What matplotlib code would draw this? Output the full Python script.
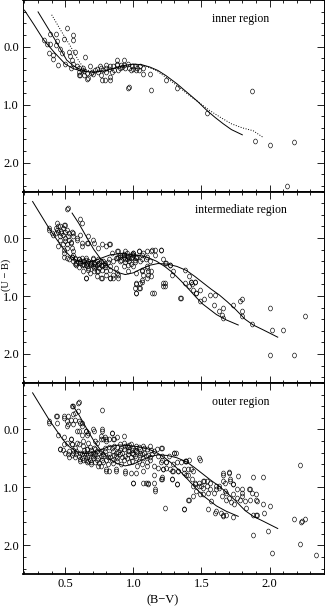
import matplotlib
matplotlib.use('Agg')

import matplotlib.pyplot as plt
import numpy as np
from matplotlib.markers import MarkerStyle
from matplotlib.transforms import Affine2D
from matplotlib.ticker import MultipleLocator

plt.rcParams['font.family'] = ['Liberation Serif', 'DejaVu Serif']

# ---- data: (B-V, U-B) ----
inner_pts = [
    (0.34, -0.12), (0.385, -0.22), (0.435, -0.22), (0.51, -0.32), (0.56, -0.20), (0.56, -0.12),
    (0.49, -0.14), (0.365, -0.04), (0.39, -0.04), (0.43, -0.03), (0.44, -0.09), (0.38, 0.11),
    (0.41, 0.14), (0.41, 0.21), (0.46, 0.04), (0.475, 0.11), (0.50, 0.29), (0.53, 0.09),
    (0.535, 0.16), (0.55, 0.23), (0.57, 0.09), (0.56, 0.29), (0.585, 0.34), (0.646, 0.17),
    (0.60, 0.43), (0.61, 0.49), (0.62, 0.40), (0.66, 0.46), (0.67, 0.54), (0.68, 0.34),
    (0.695, 0.43), (0.72, 0.40), (0.74, 0.43), (0.756, 0.34), (0.77, 0.57), (0.79, 0.57),
    (0.78, 0.40), (0.80, 0.37), (0.83, 0.57), (0.84, 0.43), (0.85, 0.34), (0.88, 0.29),
    (0.89, 0.40), (0.91, 0.32), (0.94, 0.37), (0.93, 0.23), (0.96, 0.72), (0.45, 0.32),
    (0.54, 0.37), (0.60, 0.37), (0.64, 0.49), (0.60, 0.49), (0.66, 0.55), (0.76, 0.49),
    (0.80, 0.43), (0.83, 0.34), (0.88, 0.32), (0.90, 0.37), (0.88, 0.23), (0.83, 0.52),
    (0.80, 0.32), (0.76, 0.37), (0.93, 0.32), (0.96, 0.29), (0.99, 0.34), (1.01, 0.34),
    (1.02, 0.40), (1.05, 0.34), (1.07, 0.37), (1.07, 0.47), (1.12, 0.47), (0.97, 0.70),
    (1.13, 0.74), (1.24, 0.57), (1.32, 0.72), (1.54, 1.15), (1.87, 0.76), (1.89, 1.62),
    (2.00, 1.70), (2.18, 1.65), (2.13, 2.40), (0.97, 0.37), (1.00, 0.38), (1.03, 0.36),
    (1.04, 0.41), (0.98, 0.40), (0.86, 0.40), (0.82, 0.38), (0.70, 0.47), (0.64, 0.42),
    (0.63, 0.37), (0.92, 0.35), (0.73, 0.38), (0.69, 0.46),
]

intermediate_pts = [
    (0.51, -0.50), (0.61, -0.32), (0.62, -0.26), (0.44, -0.26), (0.46, -0.20), (0.50, -0.23),
    (0.43, -0.17), (0.38, -0.14), (0.40, -0.09), (0.41, -0.06), (0.45, -0.11), (0.47, -0.09),
    (0.51, -0.14), (0.525, -0.09), (0.55, -0.11), (0.56, -0.03), (0.46, 0.03), (0.50, 0.00),
    (0.525, 0.03), (0.54, 0.09), (0.51, 0.11), (0.45, 0.14), (0.49, 0.20), (0.55, 0.17),
    (0.585, 0.03), (0.61, -0.06), (0.66, 0.09), (0.67, -0.03), (0.71, 0.09), (0.62, 0.14),
    (0.49, 0.32), (0.51, 0.34), (0.55, 0.32), (0.57, 0.34), (0.56, 0.40), (0.60, 0.37),
    (0.61, 0.43), (0.63, 0.40), (0.65, 0.46), (0.67, 0.40), (0.68, 0.46), (0.71, 0.43),
    (0.72, 0.49), (0.73, 0.40), (0.76, 0.46), (0.78, 0.40), (0.77, 0.55), (0.74, 0.57),
    (0.71, 0.57), (0.67, 0.55), (0.65, 0.69), (0.68, 0.60), (0.73, 0.66), (0.76, 0.69),
    (0.80, 0.63), (0.83, 0.69), (0.85, 0.63), (0.88, 0.60), (0.89, 0.69), (0.82, 0.11),
    (0.88, 0.23), (0.89, 0.32), (0.87, 0.34), (0.90, 0.40), (0.93, 0.32), (0.94, 0.23),
    (0.95, 0.37), (0.96, 0.46), (0.99, 0.32), (1.00, 0.26), (1.02, 0.34), (1.04, 0.23),
    (1.05, 0.40), (1.07, 0.26), (1.10, 0.32), (1.12, 0.40), (1.13, 0.23), (1.16, 0.20),
    (1.20, 0.20), (1.10, 0.49), (1.11, 0.57), (1.06, 0.57), (1.07, 0.63), (1.13, 0.66),
    (1.10, 0.69), (1.06, 0.72), (1.05, 0.78), (1.02, 0.80), (1.05, 0.86), (1.01, 0.86),
    (1.02, 0.95), (1.14, 0.95), (1.22, 0.83), (1.22, 0.78), (1.22, 0.37), (1.24, 0.43),
    (1.27, 0.46), (1.28, 0.63), (1.34, 1.03), (1.38, 0.55), (1.41, 0.66), (1.41, 0.83),
    (1.42, 0.75), (1.43, 0.80), (1.45, 0.75), (1.44, 0.89), (1.49, 0.89), (1.46, 0.95),
    (1.49, 1.09), (1.52, 1.06), (1.56, 0.98), (1.59, 1.15), (1.60, 0.98), (1.63, 1.26),
    (1.65, 1.32), (1.66, 1.38), (1.66, 1.20), (1.73, 1.15), (1.78, 1.09), (1.80, 1.06),
    (1.80, 1.26), (1.80, 1.34), (1.87, 1.49), (2.00, 1.21), (2.02, 1.58), (2.10, 1.58),
    (2.26, 1.35), (2.00, 2.01), (2.18, 2.01),
    # left crowd
    (0.52, -0.52), (0.38, -0.17), (0.43, -0.09), (0.45, -0.20), (0.48, -0.17), (0.49, -0.23),
    (0.50, -0.11), (0.46, -0.03), (0.52, -0.03), (0.54, 0.06), (0.56, -0.09), (0.585, 0.00),
    (0.62, 0.09), (0.67, 0.09), (0.70, 0.03), (0.74, 0.17), (0.80, 0.14), (0.83, 0.11),
    (0.48, 0.11), (0.51, 0.17), (0.49, 0.26), (0.56, 0.23), (0.55, 0.32), (0.57, 0.37),
    (0.58, 0.43), (0.60, 0.37), (0.62, 0.46), (0.64, 0.40), (0.66, 0.49), (0.68, 0.43),
    (0.70, 0.37), (0.71, 0.52), (0.73, 0.46), (0.76, 0.40), (0.77, 0.49), (0.79, 0.43),
    (0.82, 0.37), (0.83, 0.49), (0.85, 0.40), (0.88, 0.34), (0.87, 0.52), (0.65, 0.69),
    (0.77, 0.69), (0.83, 0.69), (0.63, 0.57), (0.73, 0.57), (0.80, 0.57),
    # middle crowd
    (0.77, 0.11), (0.84, 0.26), (0.89, 0.23), (0.90, 0.32), (0.93, 0.29), (0.94, 0.37),
    (0.95, 0.26), (0.98, 0.34), (1.00, 0.26), (1.02, 0.32), (1.04, 0.23), (1.06, 0.29),
    (1.09, 0.37), (1.10, 0.23), (1.14, 0.20), (1.16, 0.29), (1.20, 0.20), (1.23, 0.43),
    (1.27, 0.46), (1.29, 0.57), (0.79, 0.46), (0.83, 0.55), (0.85, 0.69), (0.89, 0.63),
    (0.93, 0.49), (0.96, 0.57), (1.00, 0.49), (1.02, 0.60), (1.06, 0.55), (1.10, 0.52),
    (1.13, 0.57), (1.11, 0.63), (1.02, 0.78), (1.06, 0.75), (1.04, 0.86), (1.02, 0.95),
    (1.15, 0.95), (1.23, 0.78), (1.23, 0.83), (1.35, 1.03), (1.38, 0.78), (1.42, 0.75),
    (1.45, 0.75), (1.46, 0.95),
    # densest part
    (0.59, 0.41), (0.63, 0.44), (0.65, 0.38), (0.69, 0.41), (0.70, 0.48), (0.74, 0.44),
    (0.75, 0.52), (0.79, 0.50), (0.81, 0.42), (0.66, 0.43), (0.62, 0.35), (0.58, 0.47),
    (0.92, 0.30), (0.96, 0.33), (0.97, 0.40), (1.01, 0.38), (0.91, 0.38), (0.99, 0.28),
    (0.57, 0.45), (0.60, 0.50), (0.64, 0.47), (0.67, 0.51), (0.69, 0.44), (0.72, 0.45),
    (0.75, 0.43), (0.78, 0.47), (0.61, 0.39), (0.65, 0.35), (0.70, 0.34), (0.74, 0.36),
    (0.53, 0.36), (0.56, 0.30), (0.93, 0.27), (0.95, 0.31), (0.97, 0.35), (1.00, 0.30),
    (1.03, 0.33), (0.90, 0.29), (0.94, 0.41), (1.01, 0.42), (0.98, 0.45), (1.06, 0.36),
    (0.48, -0.05), (0.50, 0.05), (0.44, -0.14), (0.47, -0.12),
]

outer_pts = [
    (0.59, -0.46), (0.55, -0.41), (0.59, -0.32), (0.57, -0.29), (0.77, -0.34), (0.44, -0.23),
    (0.49, -0.20), (0.52, -0.23), (0.38, -0.14), (0.44, -0.11), (0.51, -0.06), (0.56, -0.09),
    (0.61, -0.11), (0.62, -0.06), (0.585, 0.03), (0.65, 0.03), (0.66, 0.09), (0.71, 0.03),
    (0.77, 0.03), (0.84, 0.06), (0.93, 0.11), (0.76, 0.17), (0.72, 0.20), (0.80, 0.17),
    (0.85, 0.17), (0.49, 0.14), (0.45, 0.09), (0.46, 0.34), (0.54, 0.17), (0.55, 0.26),
    (0.585, 0.23), (0.63, 0.20), (0.67, 0.23), (0.66, 0.34), (0.61, 0.40), (0.63, 0.52),
    (0.66, 0.57), (0.70, 0.46), (0.73, 0.52), (0.76, 0.63), (0.80, 0.69), (0.87, 0.69),
    (0.94, 0.72), (1.00, 0.92), (1.09, 0.92), (1.11, 0.95), (1.16, 1.06), (1.15, 0.92),
    (1.20, 0.86), (1.20, 0.32), (1.24, 0.57), (1.30, 0.40), (1.29, 0.72), (1.28, 0.86),
    (1.32, 0.95), (1.35, 0.57), (1.38, 0.55), (1.41, 0.52), (1.42, 0.69), (1.39, 0.78),
    (1.45, 0.92), (1.48, 0.49), (1.48, 0.98), (1.51, 1.01), (1.44, 1.15), (1.41, 1.21),
    (1.37, 1.38), (1.49, 1.12), (1.55, 1.09), (1.56, 0.92), (1.52, 0.89), (1.61, 1.03),
    (1.63, 0.98), (1.65, 1.15), (1.66, 0.89), (1.66, 0.75), (1.70, 0.74), (1.67, 1.06),
    (1.68, 1.21), (1.71, 0.86), (1.73, 0.95), (1.73, 1.12), (1.76, 1.03), (1.77, 0.80),
    (1.74, 1.29), (1.78, 1.21), (1.80, 1.09), (1.80, 1.15), (1.83, 1.35), (1.87, 1.09),
    (1.90, 1.21), (1.90, 1.12), (1.95, 0.83), (1.85, 1.03), (1.88, 1.47), (1.90, 1.47),
    (1.95, 1.29), (2.00, 1.32), (1.96, 1.44), (1.99, 1.75), (1.88, 1.82), (2.02, 2.13),
    (2.18, 1.54), (2.22, 1.98), (2.22, 0.61), (2.23, 1.60), (2.24, 1.58), (2.26, 1.55),
    (2.34, 2.16), (1.60, 1.44), (1.66, 1.47), (1.66, 1.50), (1.73, 1.52), (1.55, 1.38),
    (1.23, 1.35),
    # left crowd
    (0.60, -0.47), (0.56, -0.40), (0.38, -0.11), (0.43, -0.23), (0.49, -0.23), (0.51, -0.14),
    (0.52, -0.09), (0.54, -0.17), (0.57, -0.17), (0.56, -0.26), (0.60, -0.14), (0.62, -0.11),
    (0.65, 0.03), (0.67, 0.06), (0.70, 0.00), (0.76, 0.11), (0.79, 0.14), (0.82, 0.17),
    (0.73, 0.23), (0.60, 0.03), (0.62, 0.09), (0.46, 0.34), (0.49, 0.26), (0.51, 0.23),
    (0.54, 0.17), (0.55, 0.26), (0.57, 0.32), (0.60, 0.26), (0.63, 0.29), (0.66, 0.34),
    (0.68, 0.40), (0.71, 0.32), (0.73, 0.37), (0.76, 0.46), (0.78, 0.43), (0.80, 0.52),
    (0.65, 0.43), (0.62, 0.49), (0.60, 0.46), (0.67, 0.55), (0.72, 0.57), (0.74, 0.63),
    (0.78, 0.57), (0.80, 0.72), (0.52, 0.43), (0.56, 0.40), (0.50, 0.40),
    # middle crowd
    (0.77, 0.00), (0.84, 0.06), (0.86, 0.17), (0.88, 0.14), (0.78, 0.17), (0.80, 0.20),
    (0.90, 0.26), (0.93, 0.23), (0.95, 0.29), (0.98, 0.26), (1.00, 0.32), (1.02, 0.29),
    (1.05, 0.34), (1.07, 0.29), (1.10, 0.34), (1.12, 0.29), (1.15, 0.37), (1.17, 0.34),
    (1.18, 0.46), (1.21, 0.52), (1.26, 0.46), (1.31, 0.40), (1.39, 0.55), (0.76, 0.37),
    (0.78, 0.46), (0.82, 0.43), (0.85, 0.37), (0.88, 0.49), (0.92, 0.40), (0.93, 0.52),
    (0.96, 0.43), (0.99, 0.55), (1.01, 0.46), (1.04, 0.55), (1.07, 0.49), (1.10, 0.57),
    (1.12, 0.52), (1.15, 0.63), (1.18, 0.66), (1.22, 0.69), (1.24, 0.66), (1.28, 0.72),
    (0.82, 0.72), (0.87, 0.72), (0.94, 0.75), (0.98, 0.75), (1.02, 0.75), (1.07, 0.72),
    (1.15, 0.78), (1.00, 0.92), (1.07, 0.92), (1.11, 0.92), (1.16, 1.03), (1.21, 0.86),
    (1.28, 0.86), (1.32, 0.95), (1.33, 0.72), (1.37, 0.75), (1.40, 0.69), (1.40, 1.21),
    (1.37, 1.38),
    # right part
    (1.21, 0.32), (1.30, 0.40), (1.21, 0.46), (1.20, 0.57), (1.24, 0.57), (1.29, 0.60),
    (1.32, 0.57), (1.33, 0.72), (1.27, 0.69), (1.39, 0.55), (1.49, 0.52), (1.40, 0.78),
    (1.44, 0.72), (1.37, 0.69), (1.43, 0.86), (1.45, 0.95), (1.48, 0.92), (1.50, 0.98),
    (1.51, 0.89), (1.54, 0.89), (1.54, 0.98), (1.56, 1.03), (1.59, 1.09), (1.57, 1.24),
    (1.61, 0.98), (1.63, 1.01), (1.66, 0.78), (1.67, 0.92), (1.70, 0.75), (1.71, 0.89),
    (1.73, 0.95), (1.68, 1.09), (1.70, 1.18), (1.72, 1.26), (1.76, 1.18), (1.80, 1.03),
    (1.82, 1.24), (1.86, 1.03), (1.88, 0.83), (1.86, 1.21), (1.91, 1.24), (1.91, 1.47),
    (1.64, 1.44), (1.68, 1.47), (1.61, 1.41), (1.21, 0.83), (1.22, 0.69), (1.44, 0.98),
    (1.46, 1.06), (1.51, 1.12),
    # densest part
    (0.64, 0.40), (0.67, 0.45), (0.70, 0.50), (0.72, 0.42), (0.75, 0.40), (0.79, 0.38),
    (0.83, 0.47), (0.86, 0.44), (0.89, 0.39), (0.91, 0.33), (0.94, 0.46), (0.97, 0.37),
    (0.99, 0.41), (1.03, 0.39), (1.05, 0.45), (1.08, 0.40), (1.11, 0.44), (1.13, 0.36),
    (0.96, 0.31), (1.01, 0.35), (0.88, 0.30), (0.84, 0.33), (0.69, 0.36), (0.58, 0.37),
    (0.55, 0.44), (0.61, 0.55), (0.69, 0.60), (0.85, 0.58), (0.91, 0.60), (1.03, 0.63),
    (0.62, 0.42), (0.66, 0.48), (0.68, 0.53), (0.71, 0.44), (0.74, 0.49), (0.77, 0.53),
    (0.81, 0.48), (0.84, 0.52), (0.87, 0.46), (0.90, 0.43), (0.92, 0.48), (0.95, 0.50),
    (0.98, 0.47), (1.00, 0.42), (1.02, 0.50), (1.06, 0.42), (1.09, 0.46), (1.12, 0.48),
    (1.14, 0.42), (0.90, 0.36), (0.93, 0.34), (0.96, 0.38), (0.99, 0.35), (1.02, 0.37),
    (1.04, 0.31), (1.08, 0.33), (0.94, 0.28), (0.97, 0.27), (0.86, 0.28), (0.82, 0.31),
    (0.79, 0.33), (0.72, 0.34), (0.68, 0.31), (0.64, 0.35), (0.58, 0.42), (0.57, 0.48),
    (0.61, 0.51), (0.65, 0.52), (0.69, 0.56), (0.75, 0.58), (0.81, 0.60), (0.88, 0.55),
    (0.97, 0.57), (1.06, 0.60), (1.10, 0.64), (0.53, 0.38), (0.56, 0.35), (0.53, 0.47),
    (0.48, 0.36), (0.70, 0.40), (0.87, 0.40), (1.05, 0.40),
]

# model sequences (solid / dotted)
inner_seq_a = [(0.20, -0.63), (0.27, -0.38), (0.34, -0.12), (0.42, 0.10), (0.50, 0.30),
               (0.56, 0.38), (0.62, 0.42), (0.70, 0.44), (0.78, 0.42), (0.86, 0.37),
               (0.94, 0.32), (1.00, 0.30), (1.06, 0.31), (1.12, 0.35), (1.18, 0.41),
               (1.24, 0.50), (1.32, 0.64), (1.40, 0.80), (1.47, 0.94), (1.54, 1.10),
               (1.60, 1.22), (1.66, 1.33), (1.72, 1.43), (1.80, 1.52)]
inner_seq_b = [(0.30, -0.60), (0.37, -0.33), (0.44, -0.06), (0.51, 0.23), (0.56, 0.33),
               (0.60, 0.38), (0.66, 0.43)]
inner_seq_c = [(0.40, -0.55), (0.47, -0.27), (0.54, 0.00), (0.60, 0.25), (0.64, 0.38),
               (0.70, 0.44), (0.78, 0.43), (0.86, 0.38), (0.94, 0.33), (1.00, 0.31),
               (1.08, 0.33), (1.16, 0.40), (1.24, 0.53), (1.32, 0.67), (1.40, 0.82),
               (1.48, 0.96), (1.56, 1.10), (1.64, 1.22), (1.72, 1.33), (1.80, 1.40),
               (1.88, 1.45), (1.95, 1.56)]

seq_low = [(0.26, -0.63), (0.32, -0.40), (0.38, -0.17), (0.43, 0.00), (0.48, 0.17),
           (0.53, 0.30), (0.58, 0.38), (0.64, 0.42), (0.70, 0.40), (0.76, 0.35),
           (0.83, 0.29), (0.90, 0.27), (0.97, 0.28), (1.04, 0.30), (1.10, 0.33),
           (1.17, 0.40), (1.23, 0.49), (1.29, 0.60), (1.35, 0.74), (1.41, 0.89),
           (1.46, 1.02), (1.51, 1.14), (1.56, 1.23), (1.61, 1.32), (1.68, 1.41),
           (1.77, 1.50)]
seq_high = [(0.55, -0.43), (0.60, -0.25), (0.66, 0.00), (0.71, 0.20), (0.76, 0.36),
            (0.82, 0.50), (0.88, 0.59), (0.94, 0.63), (1.00, 0.60), (1.06, 0.53),
            (1.12, 0.47), (1.18, 0.44), (1.25, 0.45), (1.32, 0.49), (1.39, 0.56),
            (1.45, 0.66), (1.51, 0.77), (1.57, 0.88), (1.63, 0.98), (1.69, 1.10),
            (1.75, 1.23), (1.82, 1.40), (1.88, 1.50), (1.95, 1.58), (2.06, 1.71)]

panel_names = ['inner region', 'intermediate region', 'outer region']
panel_pts = [inner_pts, intermediate_pts, outer_pts]
panel_seqs = [
    [(inner_seq_a, '-'), (inner_seq_b, '-'), (inner_seq_c, ':')],
    [(seq_low, '-'), (seq_high, '-')],
    [(seq_low, '-'), (seq_high, '-')],
]

x_ticks = [0.5, 1.0, 1.5, 2.0]
y_ticks = [0.0, 1.0, 2.0]

fig = plt.figure(figsize=(3.25, 6.08), dpi=100)

left, width = 0.071, 0.926
height = 0.3147
bottoms = [0.0554 + 2 * height, 0.0554 + height, 0.0554]

marker = MarkerStyle('o', fillstyle='none', transform=Affine2D().scale(0.78, 1.0))

for i in range(3):
    ax = fig.add_axes([left, bottoms[i], width, height])
    pts = np.array(panel_pts[i])
    ax.plot(pts[:, 0], pts[:, 1], linestyle='none', marker=marker, markersize=3.5,
            markeredgecolor='black', markeredgewidth=0.45, color='black')
    for seq, ls in panel_seqs[i]:
        s = np.array(seq)
        ax.plot(s[:, 0], s[:, 1], color='black', linestyle=ls, linewidth=0.7)

    ax.set_xlim(0.19, 2.40)
    ax.set_ylim(2.5, -0.8)
    ax.set_xticks(x_ticks)
    ax.xaxis.set_minor_locator(MultipleLocator(0.1))
    ax.set_yticks(y_ticks)
    ax.yaxis.set_minor_locator(MultipleLocator(0.2))
    ax.set_yticklabels(['%.1f' % v for v in y_ticks], fontsize=9)
    if i == 2:
        ax.set_xticklabels(['%.1f' % v for v in x_ticks], fontsize=9)
    else:
        ax.set_xticklabels([])
    ax.tick_params(which='both', direction='in', top=True, right=True, width=0.6)
    ax.tick_params(which='major', length=5, pad=3)
    ax.tick_params(which='minor', length=2.5)
    for side in ['top', 'bottom']:
        ax.spines[side].set_linewidth(1.3)
    for side in ['left', 'right']:
        ax.spines[side].set_linewidth(0.7)
    ax.text(1.79, -0.48, panel_names[i], ha='center', va='center', fontsize=8.5)

fig.text(0.019, 0.548, '(U \u2212 B)', rotation=90, ha='center', va='center', fontsize=7.5)
fig.text(0.50, 0.012, '(B\u2212V)', ha='center', va='center', fontsize=9)

plt.savefig('out.png', dpi=100)
plt.close()
